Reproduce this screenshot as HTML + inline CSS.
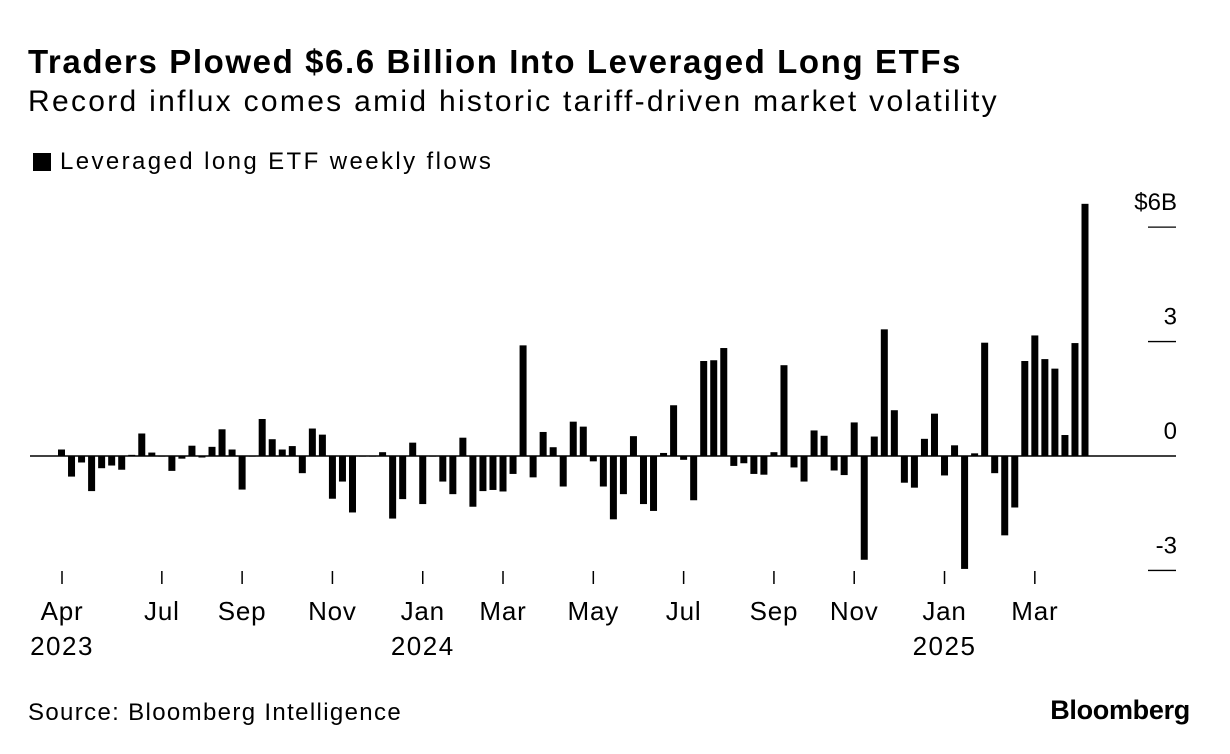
<!DOCTYPE html>
<html><head><meta charset="utf-8"><style>
body{margin:0;width:1230px;height:754px;background:#fff;font-family:"Liberation Sans",sans-serif;color:#000;position:relative;overflow:hidden}
.t{position:absolute;white-space:nowrap}
</style></head><body>
<div class="t" style="left:28px;top:43px;font-size:33px;font-weight:bold;letter-spacing:1.6px">Traders Plowed $6.6 Billion Into Leveraged Long ETFs</div>
<div class="t" style="left:28px;top:85px;font-size:30px;letter-spacing:2.3px">Record influx comes amid historic tariff-driven market volatility</div>
<div class="t" style="left:33px;top:148px;font-size:24px;letter-spacing:2.4px"><span style="display:inline-block;width:18px;height:18px;background:#000;vertical-align:-2px;margin-right:9px"></span>Leveraged long ETF weekly flows</div>
<svg id="chart" width="1230" height="754" style="position:absolute;left:0;top:0"></svg>
<div class="t" style="left:28px;top:699px;font-size:24px;letter-spacing:1.35px">Source: Bloomberg Intelligence</div>
<div class="t" style="right:40px;top:695px;font-size:27px;font-weight:bold;letter-spacing:-0.3px">Bloomberg</div>
<script>
const flows=[0.17,-0.54,-0.17,-0.92,-0.32,-0.25,-0.36,0.03,0.59,0.09,0.01,-0.39,-0.07,0.27,-0.04,0.24,0.70,0.17,-0.88,0.01,0.97,0.44,0.17,0.26,-0.45,0.72,0.56,-1.12,-0.67,-1.48,0.01,0.01,0.10,-1.64,-1.13,0.35,-1.26,0.01,-0.67,-1.0,0.48,-1.33,-0.92,-0.89,-0.93,-0.47,2.90,-0.56,0.63,0.23,-0.80,0.90,0.77,-0.14,-0.80,-1.66,-1.0,0.52,-1.26,-1.44,0.08,1.33,-0.10,-1.16,2.49,2.51,2.83,-0.26,-0.19,-0.47,-0.49,0.10,2.38,-0.30,-0.67,0.67,0.53,-0.38,-0.50,0.88,-2.72,0.51,3.32,1.20,-0.70,-0.83,0.45,1.11,-0.51,0.28,-2.96,0.07,2.97,-0.45,-2.08,-1.35,2.49,3.16,2.54,2.29,0.55,2.96,6.61];
const yTicks=[6,3,0,-3];
const yTickLabels=["$6B","3","0","-3"];
const monthLabels=["Apr","Jul","Sep","Nov","Jan","Mar","May","Jul","Sep","Nov","Jan","Mar"];
const monthIdx=[0.05,10,18,27,36,44,53,62,71,79,88,97];
const yearLabels=["2023","2024","2025"];
const yearIdx=[0.05,36,88];
const svg=document.getElementById('chart');
const NS='http://www.w3.org/2000/svg';
const x0=61.5,x1=1085;
const xs=i=>x0+(x1-x0)*i/(flows.length-1);
const ys=v=>456-v*38.15;
function mk(t,a){const e=document.createElementNS(NS,t);for(const k in a)e.setAttribute(k,a[k]);svg.appendChild(e);return e;}
yTicks.forEach((v,i)=>{
 const l=mk('line',{x1:v===0?30:1148,x2:1176,y1:ys(v),y2:ys(v),stroke:'#000','stroke-width':v===0?1.5:1.3});
 
 
 const t=mk('text',{x:1177,y:ys(v)-17,'text-anchor':'end','font-size':24,'font-family':'Liberation Sans, sans-serif'});
 t.textContent=yTickLabels[i];
 
 
});
flows.forEach((v,i)=>{
 const y=Math.min(ys(v),ys(0)),h=Math.max(Math.abs(ys(v)-ys(0)),1);
 const r=mk('rect',{x:xs(i)-3.5,y:y,width:7,height:h,fill:'#000'});
 
 
});
monthLabels.forEach((m,i)=>{
 const x=xs(monthIdx[i]);
 const l=mk('line',{x1:x,x2:x,y1:571,y2:584,stroke:'#000','stroke-width':1.5});
 
 
 const t=mk('text',{x:x,y:620,'text-anchor':'middle','font-size':26,'letter-spacing':0.8,'font-family':'Liberation Sans, sans-serif'});
 t.textContent=m;
 
 
});
yearLabels.forEach((yv,i)=>{
 const t=mk('text',{x:xs(yearIdx[i]),y:655,'text-anchor':'middle','font-size':26,'letter-spacing':1.5,'font-family':'Liberation Sans, sans-serif'});
 t.textContent=yv;
 
 
});
</script>
</body></html>
